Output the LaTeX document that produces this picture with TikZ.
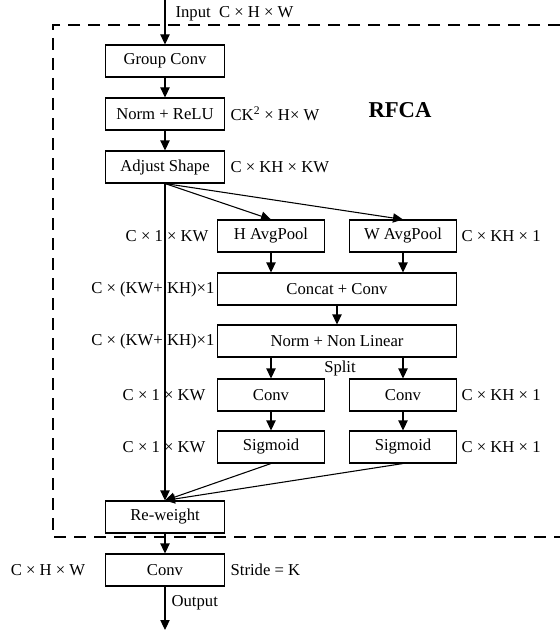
\documentclass[tikz,border=0pt]{standalone}
\usepackage{fontspec}
\setmainfont{Liberation Serif}
\usetikzlibrary{arrows.meta,positioning}

\tikzset{
  box/.style={draw,line width=0.8pt,minimum height=24pt,inner sep=2pt,font=\fontsize{12.5}{15}\selectfont},
  lbl/.style={inner sep=1pt,font=\fontsize{12.5}{15}\selectfont},
  flow/.style={line width=0.8pt,-{Triangle[length=7.5pt,width=7pt]}}
}

\begin{document}
\begin{tikzpicture}[x=0.75pt,y=-0.75pt]
		\useasboundingbox (0,0) rectangle (560,635);
		\draw[line width=1.5pt,dash pattern=on 9pt off 6pt] (560,25) -- (53,25) -- (53,537) -- (560,537);
		\node[font=\fontsize{17}{20}\selectfont\bfseries] (title) at (400,110) {RFCA};
		% main column
		\coordinate (in) at (165,0);
		\node[box,minimum width=89pt] (gconv) at (165,61) {Group Conv};
		\node[box,minimum width=89pt] (nrelu) at (165,114) {Norm + ReLU};
		\node[box,minimum width=89pt] (adjust) at (165,167) {Adjust Shape};
		\node[box,minimum width=80pt] (hpool) at (271,236) {H AvgPool};
		\node[box,minimum width=80pt] (wpool) at (403,236) {W AvgPool};
		\node[box,minimum width=179pt] (concat) at (337,289) {Concat + Conv};
		\node[box,minimum width=179pt] (nonlin) at (337,341) {Norm + Non Linear};
		\node[box,minimum width=80pt] (hconv) at (271,395) {Conv};
		\node[box,minimum width=80pt] (wconv) at (403,395) {Conv};
		\node[box,minimum width=80pt] (hsig) at (271,447) {Sigmoid};
		\node[box,minimum width=80pt] (wsig) at (403,447) {Sigmoid};
		\node[box,minimum width=89pt] (reweight) at (165,517) {Re-weight};
		\node[box,minimum width=89pt] (oconv) at (165,570) {Conv};
		\coordinate (out) at (165,630);
		% shape labels
		\node[lbl,anchor=west] (lin) at (174,14) {Input~~C × H × W};
		\node[lbl,anchor=west] (lrelu) at (229,114) {CK\textsuperscript{2} × H× W};
		\node[lbl,anchor=west] (ladj) at (229,167) {C × KH × KW};
		\node[lbl,anchor=east] (lhpool) at (210,236) {C × 1 × KW};
		\node[lbl,anchor=west] (lwpool) at (460,236) {C × KH × 1};
		\node[lbl,anchor=east] (lconcat) at (216,289) {C × (KW+ KH)×1};
		\node[lbl,anchor=east] (lnonlin) at (216,341) {C × (KW+ KH)×1};
		\node[lbl] (split) at (340,368) {Split};
		\node[lbl,anchor=east] (lhconv) at (207,395) {C × 1 × KW};
		\node[lbl,anchor=west] (lwconv) at (460,395) {C × KH × 1};
		\node[lbl,anchor=east] (lhsig) at (207,447) {C × 1 × KW};
		\node[lbl,anchor=west] (lwsig) at (460,447) {C × KH × 1};
		\node[lbl] (loconv) at (48,570) {C × H × W};
		\node[lbl,anchor=west] (stride) at (229,570) {Stride = K};
		\node[lbl,anchor=west] (lout) at (170,603) {Output};
		% arrows
		\draw[flow] (in) -- (gconv);
		\draw[flow] (gconv) -- (nrelu);
		\draw[flow] (nrelu) -- (adjust);
		\draw[flow] (adjust.south) -- (reweight.north);
		\draw[flow] (adjust.south) -- (hpool.north);
		\draw[flow] (adjust.south) -- (wpool.north);
		\draw[flow] (hpool) -- (hpool |- concat.north);
		\draw[flow] (wpool) -- (wpool |- concat.north);
		\draw[flow] (concat) -- (nonlin);
		\draw[flow] (hconv |- nonlin.south) -- (hconv);
		\draw[flow] (wconv |- nonlin.south) -- (wconv);
		\draw[flow] (hconv) -- (hsig);
		\draw[flow] (wconv) -- (wsig);
		\draw[flow] (hsig.south) -- (reweight.north);
		\draw[flow] (wsig.south) -- (reweight.north);
		\draw[flow] (reweight) -- (oconv);
		\draw[flow] (oconv) -- (out);
	\end{tikzpicture}
\end{document}
